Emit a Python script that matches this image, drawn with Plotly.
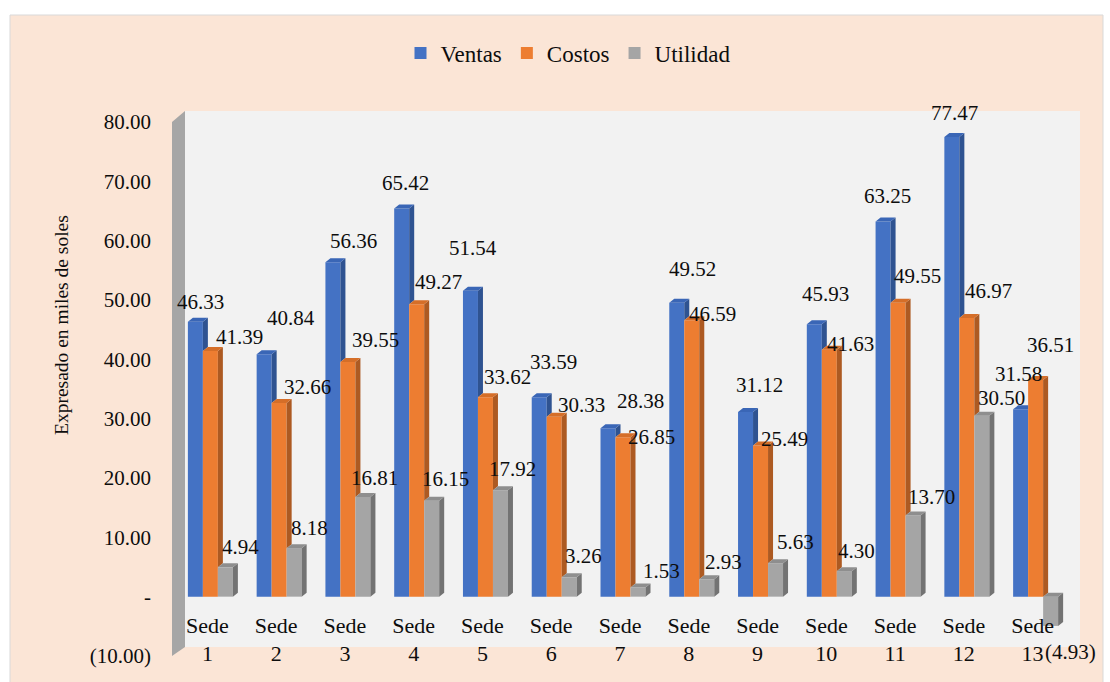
import plotly.graph_objects as go

# ---- data -------------------------------------------------------------
categorias = ["Sede 1", "Sede 2", "Sede 3", "Sede 4", "Sede 5", "Sede 6", "Sede 7",
              "Sede 8", "Sede 9", "Sede 10", "Sede 11", "Sede 12", "Sede 13"]
ventas = [46.33, 40.84, 56.36, 65.42, 51.54, 33.59, 28.38, 49.52, 31.12, 45.93, 63.25, 77.47, 31.58]
costos = [41.39, 32.66, 39.55, 49.27, 33.62, 30.33, 26.85, 46.59, 25.49, 41.63, 49.55, 46.97, 36.51]
utilidad = [4.94, 8.18, 16.81, 16.15, 17.92, 3.26, 1.53, 2.93, 5.63, 4.30, 13.70, 30.50, -4.93]
series_nombres = ["Ventas", "Costos", "Utilidad"]

y_tickvals = [-10, 0, 10, 20, 30, 40, 50, 60, 70, 80]
y_ticktext = ["(10.00)", "-", "10.00", "20.00", "30.00", "40.00", "50.00", "60.00", "70.00", "80.00"]

# ---- styling ----------------------------------------------------------
FONT = "Liberation Serif"
TXT = "#0d0d0d"
front = ["#4472C4", "#ED7D31", "#A5A5A5"]
side = ["#2F5391", "#AD5A22", "#737373"]
top = ["#3A66B6", "#D56E28", "#8E8E8E"]

# label placement, in pixels (right, down) from the top centre of each bar
label_nudge_px = [
    [(5, -20), (27, -36), (21, -21), (4, -26), (3, -43), (14, -35), (32, -27),
     (16, -34), (14, -27), (11, -30), (4, -25), (3, -24), (-2, -35)],
    [(29, -14), (28, -16), (28, -22), (22, -22), (22, -20), (27, -12), (28, 0),
     (21, -6), (24, -6), (21, -6), (19, -27), (22, -27), (15, -35)],
    [(15, -20), (15, -20), (12, -19), (14, -22), (12, -21), (14, -21), (23, -17),
     (17, -17), (20, -21), (12, -20), (18, -18), (20, -18), (20, 26)],
]

W, H = 1110, 682
ML, MR, MT, MB = 173, 43, 122, 26
PW, PH = W - ML - MR, H - MT - MB
X_RANGE = [0.5, 13.5]
Y_RANGE = [-10, 80]
px_per_x = PW / (X_RANGE[1] - X_RANGE[0])
px_per_y = PH / (Y_RANGE[1] - Y_RANGE[0])

bar_w = 15 / px_per_x          # width of one bar in category units
depth_x = 5 / px_per_x         # 3-D depth offset (right)
depth_y = 4 / px_per_y         # 3-D depth offset (up)
group_shift = 3 / px_per_x     # bars sit slightly right of the category label
offsets = [-1.5 * bar_w + s * bar_w + group_shift for s in range(3)]


def paper(px, py):
    """Pixel position on the page -> paper coordinates."""
    return (px - ML) / PW, (MT + PH - py) / PH


series = [ventas, costos, utilidad]
xpos = list(range(1, len(categorias) + 1))

fig = go.Figure()

# front faces as real bars
for s, vals in enumerate(series):
    fig.add_trace(go.Bar(
        x=xpos, y=vals, name=series_nombres[s],
        width=bar_w, offset=offsets[s],
        marker=dict(color=front[s], line=dict(width=0)),
        hoverinfo="x+y",
    ))

# side and top faces giving the bars depth
for s, vals in enumerate(series):
    sx, sy, tx, ty = [], [], [], []
    for i, v in enumerate(vals):
        x0 = xpos[i] + offsets[s]
        x1 = x0 + bar_w
        nxt = series[s + 1][i] if s < 2 else None
        if v >= 0:
            lo = 0.0
            if nxt is not None and nxt > 0:
                lo = min(v, nxt)
            if v > lo:
                sx += [x1, x1 + depth_x, x1 + depth_x, x1, None]
                sy += [lo, lo + depth_y, v + depth_y, v, None]
            if nxt is not None and nxt > v:
                tx += [x0, x1, x1, x0 + depth_x, None]
                ty += [v, v, v + depth_y, v + depth_y, None]
            else:
                tx += [x0, x1, x1 + depth_x, x0 + depth_x, None]
                ty += [v, v, v + depth_y, v + depth_y, None]
        else:
            sx += [x1, x1 + depth_x, x1 + depth_x, x1, None]
            sy += [v, v + depth_y, depth_y, 0, None]
            tx += [x0, x1, x1 + depth_x, x0 + depth_x, None]
            ty += [0, 0, depth_y, depth_y, None]
    fig.add_trace(go.Scatter(x=sx, y=sy, fill="toself", fillcolor=side[s], mode="none",
                             hoverinfo="skip", showlegend=False))
    fig.add_trace(go.Scatter(x=tx, y=ty, fill="toself", fillcolor=top[s], mode="none",
                             hoverinfo="skip", showlegend=False))

# value labels
for s, vals in enumerate(series):
    for i, v in enumerate(vals):
        txt = f"{v:.2f}" if v >= 0 else f"({abs(v):.2f})"
        dxs, dys = label_nudge_px[s][i]
        fig.add_annotation(
            x=xpos[i] + offsets[s] + bar_w / 2, y=v, xref="x", yref="y",
            text=txt, showarrow=False, xshift=dxs, yshift=-dys,
            xanchor="center", yanchor="middle",
            font=dict(family=FONT, size=21, color=TXT),
        )

# chart background, back wall and left wall
shapes = []
bx0, by0 = paper(10, 690)
bx1, by1 = paper(1103, 15)
shapes.append(dict(type="rect", xref="paper", yref="paper", x0=bx0, y0=by0, x1=bx1, y1=by1,
                   fillcolor="#FBE5D6", line=dict(color="#D9D9D9", width=1), layer="below"))
wx0, wy0 = paper(185, 647)
wx1, wy1 = paper(1080, 111)
shapes.append(dict(type="rect", xref="paper", yref="paper", x0=wx0, y0=wy0, x1=wx1, y1=wy1,
                   fillcolor="#F2F2F2", line=dict(width=0), layer="below"))
pts = [paper(172, 122), paper(185, 111), paper(185, 647), paper(172, 656)]
path = "M " + " L ".join(f"{a:.5f},{b:.5f}" for a, b in pts) + " Z"
shapes.append(dict(type="path", xref="paper", yref="paper", path=path,
                   fillcolor="#A6A6A6", line=dict(width=0), layer="below"))

tx_, ty_ = paper(61, 325)
fig.add_annotation(x=tx_, y=ty_, xref="paper", yref="paper", text="Expresado en miles de soles",
                   textangle=-90, showarrow=False, xanchor="center", yanchor="middle",
                   font=dict(family=FONT, size=19.5, color=TXT))

lx, ly = paper(568, 53)
fig.update_layout(
    width=W, height=H,
    margin=dict(l=ML, r=MR, t=MT, b=MB, pad=0),
    paper_bgcolor="white", plot_bgcolor="rgba(0,0,0,0)",
    barmode="overlay",
    shapes=shapes,
    showlegend=True,
    legend=dict(orientation="h", x=lx, y=ly, xanchor="center", yanchor="middle",
                font=dict(family=FONT, size=23, color=TXT), bgcolor="rgba(0,0,0,0)",
                traceorder="normal"),
    xaxis=dict(range=X_RANGE, tickvals=xpos, ticktext=[c.replace(" ", "<br>") for c in categorias],
               anchor="free", position=(0 - Y_RANGE[0]) / (Y_RANGE[1] - Y_RANGE[0]),
               showgrid=False, zeroline=False, showline=False, ticks="",
               ticklabelstandoff=13,
               tickfont=dict(family=FONT, size=22, color=TXT)),
    yaxis=dict(range=Y_RANGE, tickvals=y_tickvals, ticktext=y_ticktext,
               showgrid=False, zeroline=False, showline=False, ticks="",
               ticklabelstandoff=21,
               tickfont=dict(family=FONT, size=21, color=TXT)),
)

fig.write_html("out.html")
